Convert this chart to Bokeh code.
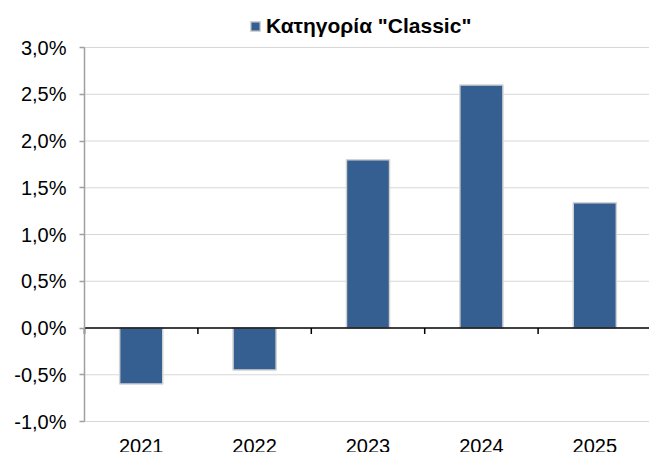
import math
from bokeh.plotting import figure
from bokeh.models import (ColumnDataSource, FixedTicker, Legend, LegendItem)
from bokeh.embed import file_html
from bokeh.resources import INLINE

# ---- data ----
years = ["2021", "2022", "2023", "2024", "2025"]
values = [-0.60, -0.45, 1.80, 2.60, 1.34]
series_name = 'Κατηγορία "Classic"'
y_ticks = [-1.0, -0.5, 0.0, 0.5, 1.0, 1.5, 2.0, 2.5, 3.0]
y_tick_labels = ["-1,0%", "-0,5%", "0,0%", "0,5%", "1,0%", "1,5%", "2,0%", "2,5%", "3,0%"]

FONT = "Liberation Sans"
BAR = "#365f91"

# ---- layout (pixels) ----
W, H = 649, 452
AX_X, TOP_Y, BOT_Y = 84, 47, 421          # y axis x, 3.0% and -1.0% positions
CAT_PX = 113.4                            # width of one category
UNIT_PX = (BOT_Y - TOP_Y) / (y_ticks[-1] - y_ticks[0])

n = len(years)
xpos = list(range(1, n + 1))
x0 = 0.5
x_start = x0 - AX_X / CAT_PX
x_end = x0 + (W - AX_X) / CAT_PX
y_start = y_ticks[0] - (H - BOT_Y) / UNIT_PX
y_end = y_ticks[-1] + TOP_Y / UNIT_PX

src = ColumnDataSource(dict(x=xpos, top=values))

p = figure(width=W, height=H, output_backend="svg", toolbar_location=None,
           x_range=(x_start, x_end), y_range=(y_start, y_end),
           min_border_left=0, min_border_right=0, min_border_top=0,
           min_border_bottom=0)
p.outline_line_color = None
p.background_fill_color = "white"
p.xgrid.visible = False
p.ygrid.visible = False

# dotted horizontal gridlines from the axis to the right edge
grid_y = [t for t in y_ticks if t != 0]
p.segment(x0=[x0] * len(grid_y), y0=grid_y, x1=[x_end] * len(grid_y), y1=grid_y,
          line_color="#b0b0b0", line_dash="1 1", line_width=1)

r = p.vbar(x="x", top="top", bottom=0, width=0.38, source=src,
           fill_color=BAR, line_color="#d2d2d2", line_width=1.5)

# zero line and category-boundary ticks
p.segment(x0=[x0], y0=[0], x1=[x_end], y1=[0], line_color="black", line_width=1.5)
bounds = [i + 0.5 for i in range(n)]
p.ray(x=bounds, y=[0] * n, length=6, length_units="screen",
      angle=-math.pi / 2, line_color="black", line_width=1.5)

# x axis: year labels at the bottom
xax = p.xaxis[0]
xax.fixed_location = y_ticks[0]
xax.ticker = FixedTicker(ticks=xpos)
xax.major_label_overrides = {x: y for x, y in zip(xpos, years)}
xax.major_label_text_font = FONT
xax.major_label_text_font_size = "20px"
xax.major_label_text_color = "black"
xax.major_label_standoff = 11
xax.axis_line_color = None
xax.major_tick_line_color = None
xax.minor_tick_line_color = None

yax = p.yaxis[0]
yax.fixed_location = x0
yax.bounds = (y_ticks[0], y_ticks[-1])
yax.ticker = FixedTicker(ticks=y_ticks)
yax.major_label_overrides = {t: l for t, l in zip(y_ticks, y_tick_labels)}
yax.major_label_text_font = FONT
yax.major_label_text_font_size = "20px"
yax.major_label_text_color = "black"
yax.major_label_standoff = 13
yax.axis_line_color = "#a0a0a0"
yax.axis_line_width = 1.5
yax.major_tick_line_color = "#a0a0a0"
yax.major_tick_line_width = 1.5
yax.major_tick_out = 5
yax.major_tick_in = 0
yax.minor_tick_line_color = None

# legend on top
legend = Legend(items=[LegendItem(label=series_name, renderers=[r])],
                location=(249, 414), orientation="horizontal",
                glyph_width=12, glyph_height=12, label_standoff=5,
                padding=0, margin=0, border_line_color=None,
                background_fill_alpha=0,
                label_text_font=FONT, label_text_font_size="21px",
                label_text_font_style="bold", label_text_color="black")
p.add_layout(legend, "center")

open("out.html", "w").write(file_html(p, INLINE))
